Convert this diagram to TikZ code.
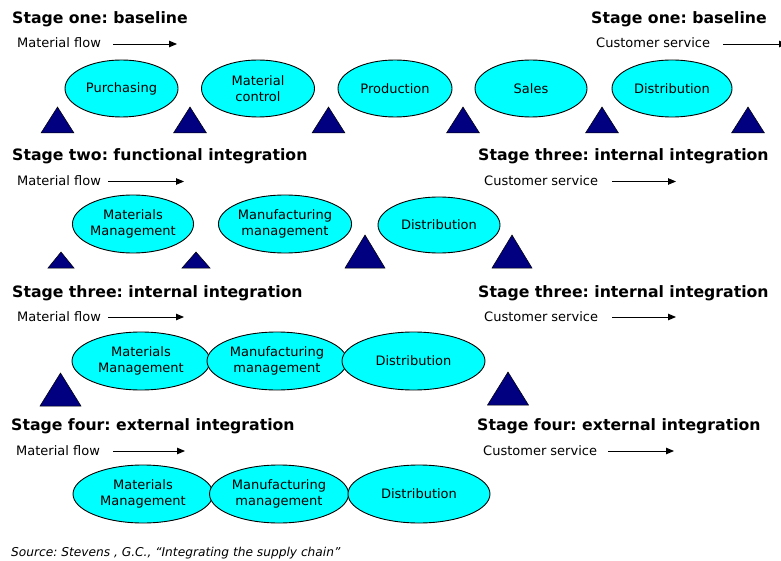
\documentclass[tikz,border=0pt]{standalone}
\usepackage{fontspec}
\setmainfont{DejaVu Sans}
\usetikzlibrary{shapes.geometric,arrows.meta}
\frenchspacing
\definecolor{proc}{RGB}{0,255,255}
\definecolor{pivotblue}{RGB}{0,0,128}
\tikzset{
  x=1pt, y=-1pt,
  title/.style={anchor=base west, inner sep=0pt, font=\fontsize{15.7}{18}\selectfont\bfseries},
  flowlabel/.style={anchor=base west, inner sep=0pt, font=\fontsize{13}{16}\selectfont},
  func/.style={ellipse, draw=black, line width=0.9pt, fill=proc, inner sep=0pt,
    align=center, font=\fontsize{13}{16}\selectfont},
  flow/.style={-{Triangle[length=8pt,width=6.5pt]}, line width=0.9pt},
  pivot/.style={fill=pivotblue, draw=black, line width=0.5pt},
  source/.style={anchor=base west, inner sep=0pt, font=\fontsize{12.2}{14}\selectfont\itshape},
}
% fulcrum triangle: apex x, base width, apex y, base y
\newcommand\fulcrum[4]{\filldraw[pivot] (#1-#2/2,#4) -- (#1,#3) -- (#1+#2/2,#4) -- cycle;}
\begin{document}
\begin{tikzpicture}
\clip (0,0) rectangle (781,561);
\fill[white] (0,0) rectangle (781,561);

% ---------------- Stage one ----------------
\node[title] (t1l) at (12,24) {Stage one: baseline};
\node[title] (t1r) at (591,24) {Stage one: baseline};
\node[flowlabel] (m1) at (17,48) {Material flow};
\coordinate (m1a) at (113,44); \coordinate (m1b) at (177,44);
\draw[flow] (m1a) -- (m1b);
\node[flowlabel] (c1) at (596,48) {Customer service};
\coordinate (c1a) at (723,44); \coordinate (c1b) at (787,44);
\draw[flow] (c1a) -- (c1b);

\node[func, minimum width=113, minimum height=57] (s1pur) at (121.5,88.5) {Purchasing};
\node[func, minimum width=113, minimum height=57] (s1mat) at (258,88.5) {Material\\control};
\node[func, minimum width=114, minimum height=57] (s1pro) at (395,88.5) {Production};
\node[func, minimum width=112, minimum height=57] (s1sal) at (531,88.5) {Sales};
\node[func, minimum width=120, minimum height=57] (s1dis) at (672,88.5) {Distribution};

\fulcrum{57.5}{33}{107}{133}
\fulcrum{190}{33}{107}{133}
\fulcrum{328.5}{33}{107}{133}
\fulcrum{463}{33}{107}{133}
\fulcrum{602}{33}{107}{133}
\fulcrum{748}{33}{107}{133}

% ---------------- Stage two ----------------
\node[title] (t2l) at (12,161) {Stage two: functional integration};
\node[title] (t2r) at (478,161) {Stage three: internal integration};
\node[flowlabel] (m2) at (17,185.5) {Material flow};
\coordinate (m2a) at (108,181.5); \coordinate (m2b) at (184,181.5);
\draw[flow] (m2a) -- (m2b);
\node[flowlabel] (c2) at (484,185.5) {Customer service};
\coordinate (c2a) at (612,181.5); \coordinate (c2b) at (676,181.5);
\draw[flow] (c2a) -- (c2b);

\node[func, minimum width=121, minimum height=58] (s2mm) at (133,224) {Materials\\Management};
\node[func, minimum width=124, minimum height=58] (s2man) at (285,224) {Manufacturing\\management};
\node[func, minimum width=122, minimum height=56] (s2dis) at (439,225) {Distribution};

\fulcrum{61}{26}{252}{268}
\fulcrum{196}{28}{252}{268}
\fulcrum{365}{40}{235}{268}
\fulcrum{512}{40}{235}{268}

% ---------------- Stage three ----------------
\node[title] (t3l) at (12,297) {Stage three: internal integration};
\node[title] (t3r) at (478,297) {Stage three: internal integration};
\node[flowlabel] (m3) at (17,321) {Material flow};
\coordinate (m3a) at (108,317); \coordinate (m3b) at (184,317);
\draw[flow] (m3a) -- (m3b);
\node[flowlabel] (c3) at (484,321) {Customer service};
\coordinate (c3a) at (612,317); \coordinate (c3b) at (676,317);
\draw[flow] (c3a) -- (c3b);

\node[func, minimum width=138, minimum height=58] (s3mm) at (141,361) {Materials\\Management};
\node[func, minimum width=140, minimum height=58] (s3man) at (277,361) {Manufacturing\\management};
\node[func, minimum width=143, minimum height=58] (s3dis) at (413.5,361) {Distribution};

\fulcrum{60.5}{41}{373}{406}
\fulcrum{508}{41}{372}{405}

% ---------------- Stage four ----------------
\node[title] (t4l) at (11,430) {Stage four: external integration};
\node[title] (t4r) at (477,430) {Stage four: external integration};
\node[flowlabel] (m4) at (16,455) {Material flow};
\coordinate (m4a) at (113,451); \coordinate (m4b) at (185,451);
\draw[flow] (m4a) -- (m4b);
\node[flowlabel] (c4) at (483,455) {Customer service};
\coordinate (c4a) at (608,451); \coordinate (c4b) at (674,451);
\draw[flow] (c4a) -- (c4b);

\node[func, minimum width=140, minimum height=58] (s4mm) at (143,494) {Materials\\Management};
\node[func, minimum width=139, minimum height=58] (s4man) at (279,494) {Manufacturing\\management};
\node[func, minimum width=142, minimum height=58] (s4dis) at (419,494) {Distribution};

% ---------------- Reference ----------------
\node[source] (src) at (11,556) {Source: Stevens , G.C., “Integrating the supply chain”};
\end{tikzpicture}
\end{document}
